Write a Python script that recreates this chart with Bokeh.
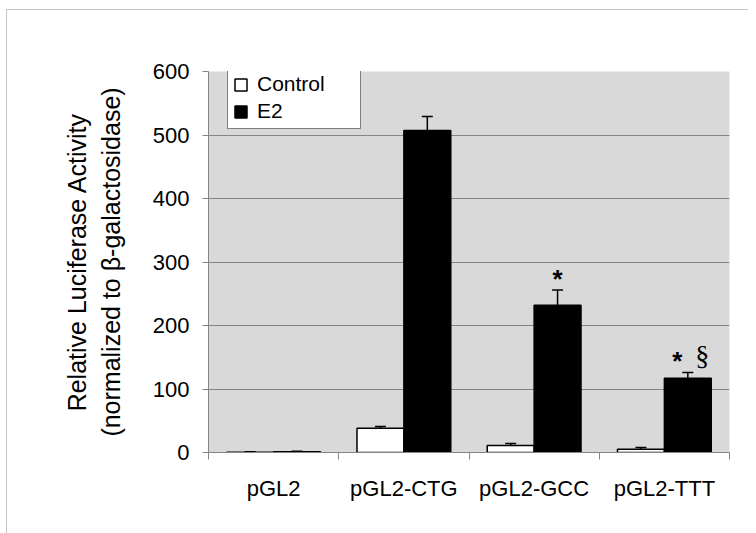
from bokeh.plotting import figure
from bokeh.models import (ColumnDataSource, FixedTicker, Whisker, TeeHead,
                          Legend, LegendItem, InlineStyleSheet)
from bokeh.core.properties import value
from bokeh.embed import file_html
from bokeh.resources import INLINE

# ---- data ----
categories = ["pGL2", "pGL2-CTG", "pGL2-GCC", "pGL2-TTT"]
control = [0.5, 38, 11, 5]
control_err = [0.8, 3, 3, 3]
e2 = [1, 507, 232, 117]
e2_err = [0.8, 22, 24, 9]
ann_category = ["pGL2-GCC", "pGL2-TTT", "pGL2-TTT"]
ann_label = ["*", "*", "§"]
y_ticks = [0, 100, 200, 300, 400, 500, 600]

FONT = "Liberation Sans"
BAR_W = 0.36

centers = [i + 0.5 for i in range(len(categories))]
xc = [c - BAR_W / 2 for c in centers]
xe = [c + BAR_W / 2 for c in centers]

src_c = ColumnDataSource(dict(x=xc, top=control, upper=[v + e for v, e in zip(control, control_err)]))
src_e = ColumnDataSource(dict(x=xe, top=e2, upper=[v + e for v, e in zip(e2, e2_err)]))

p = figure(width=748, height=525, x_range=(0, len(categories)), y_range=(0, y_ticks[-1]),
           output_backend="svg", toolbar_location=None,
           min_border_left=208, min_border_right=19, min_border_top=71, min_border_bottom=73)

p.background_fill_color = "#d9d9d9"
p.border_fill_color = "white"
p.outline_line_color = None

# light grey page frame (top and left edges visible)
p.stylesheets = [InlineStyleSheet(css="""
:host { position: relative; }
:host::after {
  content: ""; position: absolute; left: 6px; top: 9px; right: 0; bottom: -8px;
  border-left: 1.5px solid #c4c4c4; border-top: 1.5px solid #c4c4c4;
  pointer-events: none; z-index: 100;
}
""")]

# bars
rc = p.vbar(x="x", top="top", width=BAR_W, source=src_c, fill_color="white",
            line_color="black", line_width=1.5)
re = p.vbar(x="x", top="top", width=BAR_W, source=src_e, fill_color="black",
            line_color="black", line_width=1.5)

for src in (src_c, src_e):
    w = Whisker(base="x", lower="top", upper="upper", source=src,
                line_color="black", line_width=1.5,
                upper_head=TeeHead(size=11, line_color="black", line_width=1.5),
                lower_head=None)
    p.add_layout(w)

# annotations
ax, ay = [], []
for cat, lab in zip(ann_category, ann_label):
    i = categories.index(cat)
    n_same = ann_category.count(cat)
    shift = 0.0 if n_same == 1 else (-0.08 if lab == "*" else 0.11)
    ax.append(xe[i] + shift)
    ay.append(e2[i] + e2_err[i] + (18 if lab == "*" else 26))
star_idx = [k for k, t in enumerate(ann_label) if t == "*"]
sect_idx = [k for k, t in enumerate(ann_label) if t != "*"]
p.text(x=[ax[k] for k in star_idx], y=[ay[k] for k in star_idx], text=[ann_label[k] for k in star_idx],
       text_font=value(FONT), text_font_size="26px", text_font_style="bold",
       text_align="center", text_baseline="middle", text_color="black")
p.text(x=[ax[k] for k in sect_idx], y=[ay[k] for k in sect_idx], text=[ann_label[k] for k in sect_idx],
       text_font=value("Liberation Serif"), text_font_size="28px",
       text_align="center", text_baseline="middle", text_color="black")

# grid
p.xgrid.grid_line_color = None
p.ygrid.grid_line_color = "#858585"
p.ygrid.grid_line_width = 1
p.ygrid.ticker = FixedTicker(ticks=y_ticks)

# y axis
p.yaxis.ticker = FixedTicker(ticks=y_ticks)
p.yaxis.axis_line_color = "#858585"
p.yaxis.major_tick_line_color = "#858585"
p.yaxis.major_tick_out = 6
p.yaxis.major_tick_in = 0
p.yaxis.minor_tick_line_color = None
p.yaxis.major_label_text_font = FONT
p.yaxis.major_label_text_font_size = "22px"
p.yaxis.major_label_text_color = "black"
p.yaxis.major_label_standoff = 13
p.yaxis.axis_label = "Relative Luciferase Activity\n(normalized to \u03b2-galactosidase)"
p.yaxis.axis_label_text_font = FONT
p.yaxis.axis_label_text_font_size = "25px"
p.yaxis.axis_label_text_font_style = "normal"
p.yaxis.axis_label_text_color = "black"
p.yaxis.axis_label_standoff = 25
p.yaxis.axis_label_text_align = "center"

# x axis
p.xaxis.ticker = FixedTicker(ticks=centers, minor_ticks=list(range(len(categories) + 1)))
p.xaxis.major_label_overrides = {c: lab for c, lab in zip(centers, categories)}
p.xaxis.axis_line_color = "#858585"
p.xaxis.major_tick_line_color = None
p.xaxis.major_tick_out = 0
p.xaxis.major_tick_in = 0
p.xaxis.minor_tick_line_color = "#858585"
p.xaxis.minor_tick_out = 7
p.xaxis.minor_tick_in = 0
p.xaxis.major_label_text_font = FONT
p.xaxis.major_label_text_font_size = "22px"
p.xaxis.major_label_text_color = "black"
p.xaxis.major_label_standoff = 16

# legend
legend = Legend(items=[LegendItem(label="Control", renderers=[rc]),
                       LegendItem(label="E2", renderers=[re])],
                location=(19, 323), orientation="vertical",
                label_text_font=FONT, label_text_font_size="21px",
                label_text_color="black",
                glyph_width=15, glyph_height=15, label_standoff=9,
                padding=5, spacing=3, label_width=98,
                border_line_color="black", border_line_width=1.5,
                background_fill_color="white", background_fill_alpha=1.0)
p.add_layout(legend, "center")

open("out.html", "w").write(file_html(p, INLINE))
